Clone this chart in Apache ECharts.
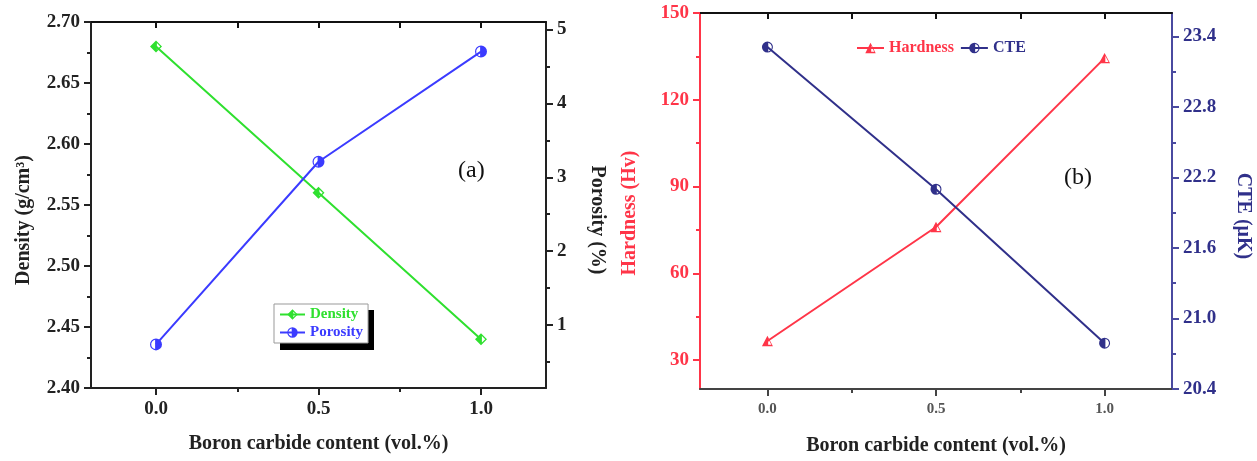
<!DOCTYPE html>
<html>
<head>
<meta charset="utf-8">
<title>Boron carbide content</title>
<script src="https://cdn.jsdelivr.net/npm/echarts@6/dist/echarts.min.js"></script>
<style>
  html, body { margin: 0; padding: 0; background: #fff; }
  #chart { width: 1257px; height: 461px; }
</style>
</head>
<body>
<div id="chart"></div>
<script>
// data
const content = [0, 0.5, 1.0]
const density = [2.68, 2.56, 2.44]
const porosity = [0.74, 3.21, 4.70]
const hardness = [36.6, 76, 134.4]
const cte = [23.31, 22.10, 20.79]

// tick positions
const xTicks = [0, 0.5, 1.0]
const xMinor = [0.25, 0.75]
const densityTicks = [2.40, 2.45, 2.50, 2.55, 2.60, 2.65, 2.70]
const densityMinor = [2.425, 2.475, 2.525, 2.575, 2.625, 2.675]
const porosityTicks = [1, 2, 3, 4, 5]
const porosityMinor = [0.5, 1.5, 2.5, 3.5, 4.5]
const hardnessTicks = [30, 60, 90, 120, 150]
const hardnessMinor = [45, 75, 105, 135]
const cteTicks = [20.4, 21.0, 21.6, 22.2, 22.8, 23.4]
const cteMinor = [20.7, 21.3, 21.9, 22.5, 23.1]

const FONT = 'Liberation Serif'
const GREEN = '#2fe02f'
const BLUE = '#3b3bff'
const RED = '#ff3548'
const NAVY = '#30308a'

// half filled markers (outer shape minus the inner right/left half)
const diamondL = 'path://M0,-10L10,0L0,10L-10,0Z M1.5,-5.5L1.5,5.5L7,0Z'
const circleL = 'path://M0,-10A10,10,0,1,1,0,10A10,10,0,1,1,0,-10Z M1.5,-7.86L1.5,7.86A8,8,0,0,0,1.5,-7.86Z'
const circleR = 'path://M0,-10A10,10,0,1,1,0,10A10,10,0,1,1,0,-10Z M-1.5,7.86L-1.5,-7.86A8,8,0,0,0,-1.5,7.86Z'
const triangleL = 'path://M0,-10L9,7L-9,7Z M1.2,-5L1.2,4.8L6.5,4.8Z'

const pairs = (ys) => content.map((x, i) => [x, ys[i]])

// x axes of one panel: labelled bottom, minor ticks, mirrored top
const makeX = (grid, o) => [
  {
    gridIndex: grid, type: 'value', min: -0.2, max: 1.2, position: 'bottom',
    name: 'Boron carbide content (vol.%)', nameLocation: 'middle', nameGap: o.nameGap,
    nameTextStyle: { fontFamily: FONT, fontWeight: 'bold', fontSize: 20, color: '#222' },
    axisLine: { onZero: false, lineStyle: { color: o.color, width: 2 } },
    axisTick: { customValues: xTicks, length: 7, lineStyle: { color: o.color, width: 2 } },
    axisLabel: { customValues: xTicks, formatter: (v) => v.toFixed(1), margin: o.margin,
      fontFamily: FONT, fontWeight: 'bold', fontSize: o.labelSize, color: o.labelColor },
    splitLine: { show: false }
  },
  {
    gridIndex: grid, type: 'value', min: -0.2, max: 1.2, position: 'bottom',
    axisLine: { show: false, onZero: false },
    axisTick: { customValues: xMinor, length: 4, lineStyle: { color: o.color, width: 2 } },
    axisLabel: { show: false }, splitLine: { show: false }
  },
  {
    gridIndex: grid, type: 'value', min: -0.2, max: 1.2, position: 'top',
    axisLine: { onZero: false, lineStyle: { color: '#111', width: 2 } },
    axisTick: { inside: true, customValues: xTicks.concat(xMinor), length: 6, lineStyle: { color: '#111', width: 2 } },
    axisLabel: { show: false }, splitLine: { show: false }
  }
]

// y axis with major ticks and labels, plus a helper axis for minor ticks
const makeY = (grid, o) => [
  {
    gridIndex: grid, type: 'value', min: o.min, max: o.max, position: o.position,
    name: o.name, nameLocation: 'middle', nameGap: o.nameGap, nameRotate: o.nameRotate,
    nameTextStyle: { fontFamily: FONT, fontWeight: 'bold', fontSize: 20, color: o.nameColor, padding: o.namePad },
    axisLine: { onZero: false, lineStyle: { color: o.color, width: 2 } },
    axisTick: { customValues: o.ticks, length: 7, lineStyle: { color: o.color, width: 2 } },
    axisLabel: { customValues: o.ticks, formatter: o.fmt, margin: 11,
      fontFamily: FONT, fontWeight: 'bold', fontSize: 19, color: o.labelColor },
    splitLine: { show: false }
  },
  {
    gridIndex: grid, type: 'value', min: o.min, max: o.max, position: o.position,
    axisLine: { show: false, onZero: false },
    axisTick: { customValues: o.minor, length: 4, lineStyle: { color: o.color, width: 2 } },
    axisLabel: { show: false }, splitLine: { show: false }
  }
]

const legendText = (color) => ({ fontFamily: FONT, fontWeight: 'bold', fontSize: 15, color: color })

const option = {
  animation: false,
  backgroundColor: '#fff',
  grid: [
    { left: 91, top: 22, width: 455, height: 366 },
    { left: 700, top: 13, width: 472, height: 376 }
  ],
  xAxis: [
    ...makeX(0, { color: '#222', labelColor: '#222', labelSize: 19, margin: 12, nameGap: 46 }),
    ...makeX(1, { color: '#444', labelColor: '#555', labelSize: 15, margin: 13, nameGap: 47 })
  ],
  yAxis: [
    ...makeY(0, { min: 2.40, max: 2.70, position: 'left', name: 'Density (g/cm³)', nameGap: 57,
      nameRotate: 90, namePad: [0, 30, 0, 0], nameColor: '#222', color: '#222', labelColor: '#222',
      ticks: densityTicks, minor: densityMinor, fmt: (v) => v.toFixed(2) }),
    ...makeY(0, { min: 0.15, max: 5.1, position: 'right', name: 'Porosity (%)', nameGap: 41,
      nameRotate: -90, namePad: [0, 0, 0, 30], nameColor: '#222', color: '#222', labelColor: '#222',
      ticks: porosityTicks, minor: porosityMinor, fmt: (v) => String(v) }),
    ...makeY(1, { min: 20, max: 150, position: 'left', name: 'Hardness (Hv)', nameGap: 60,
      nameRotate: 90, namePad: [0, 24, 0, 0], nameColor: RED, color: RED, labelColor: RED,
      ticks: hardnessTicks, minor: hardnessMinor, fmt: (v) => String(v) }),
    ...makeY(1, { min: 20.4, max: 23.6, position: 'right', name: 'CTE (μK)', nameGap: 61,
      nameRotate: -90, namePad: [0, 0, 0, 30], nameColor: NAVY, color: '#4a4aa0', labelColor: NAVY,
      ticks: cteTicks, minor: cteMinor, fmt: (v) => v.toFixed(1) })
  ],
  legend: [
    {
      orient: 'vertical', left: 274, top: 304, padding: [3, 5], itemGap: 3,
      itemWidth: 25, itemHeight: 13, z: 10,
      backgroundColor: '#fff', borderColor: '#999', borderWidth: 1,
      data: [
        { name: 'Density', textStyle: legendText(GREEN) },
        { name: 'Porosity', textStyle: legendText(BLUE) }
      ]
    },
    {
      orient: 'horizontal', left: 856, top: 40, itemGap: 6, padding: 0,
      itemWidth: 27, itemHeight: 13,
      data: [
        { name: 'Hardness', textStyle: { ...legendText(RED), fontSize: 16 } },
        { name: 'CTE', textStyle: { ...legendText(NAVY), fontSize: 16 } }
      ]
    }
  ],
  graphic: [
    // drop shadow of the legend box
    { type: 'rect', left: 280, top: 310, z: 1, shape: { width: 94, height: 40 }, style: { fill: '#000' } },
    { type: 'text', left: 458, top: 159, style: { text: '(a)', font: '24px "Liberation Serif"', fill: '#111' } },
    { type: 'text', left: 1064, top: 166, style: { text: '(b)', font: '24px "Liberation Serif"', fill: '#111' } }
  ],
  series: [
    {
      name: 'Density', type: 'line', xAxisIndex: 0, yAxisIndex: 0, data: pairs(density),
      symbol: diamondL, symbolSize: 12, symbolKeepAspect: true,
      lineStyle: { color: GREEN, width: 2 }, itemStyle: { color: GREEN, borderWidth: 0 }
    },
    {
      name: 'Porosity', type: 'line', xAxisIndex: 0, yAxisIndex: 2, data: pairs(porosity),
      symbol: circleR, symbolSize: 12, symbolKeepAspect: true,
      lineStyle: { color: BLUE, width: 2 }, itemStyle: { color: BLUE, borderWidth: 0 }
    },
    {
      name: 'Hardness', type: 'line', xAxisIndex: 3, yAxisIndex: 4, data: pairs(hardness),
      symbol: triangleL, symbolSize: 11, symbolKeepAspect: true,
      lineStyle: { color: RED, width: 2 }, itemStyle: { color: RED, borderWidth: 0 }
    },
    {
      name: 'CTE', type: 'line', xAxisIndex: 3, yAxisIndex: 6, data: pairs(cte),
      symbol: circleL, symbolSize: 11, symbolKeepAspect: true,
      lineStyle: { color: NAVY, width: 2 }, itemStyle: { color: NAVY, borderWidth: 0 }
    }
  ]
}

const myChart = echarts.init(document.getElementById('chart'))
myChart.setOption(option)
</script>
</body>
</html>
